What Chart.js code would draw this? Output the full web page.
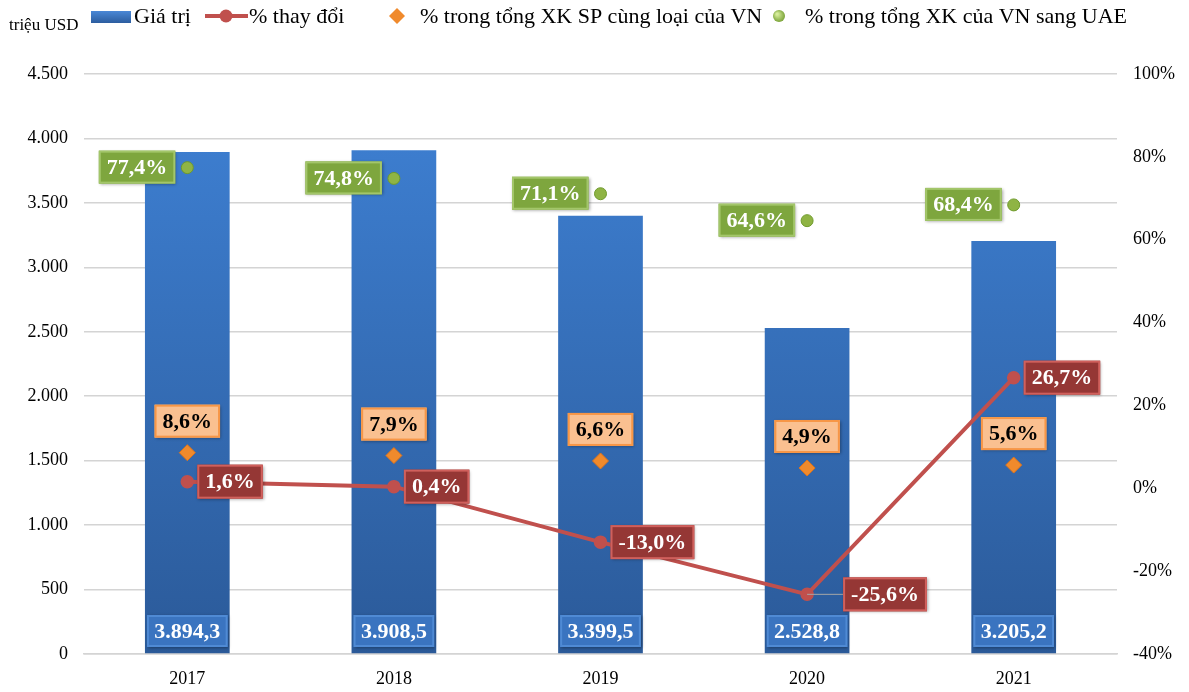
<!DOCTYPE html>
<html>
<head>
<meta charset="utf-8">
<script src="https://cdn.jsdelivr.net/npm/chart.js@4.4.1/dist/chart.umd.min.js"></script>
<style>
  html, body { margin: 0; padding: 0; background: #fff; }
  #khung { width: 1189px; height: 692px; }
</style>
</head>
<body>
<div id="khung"><canvas id="bieuDo"></canvas></div>
<script>
const nam = ["2017", "2018", "2019", "2020", "2021"];
const giaTri = [3894.3, 3908.5, 3399.5, 2528.8, 3205.2];
const thayDoi = [1.6, 0.4, -13.0, -25.6, 26.7];
const tyTrongSP = [8.6, 7.9, 6.6, 4.9, 5.6];
const tyTrongUAE = [77.4, 74.8, 71.1, 64.6, 68.4];

const FONT = '"Liberation Serif", "Times New Roman", serif';

// so kieu Viet Nam: 3.894,3
function dinhDang(v, le) {
  const phan = Math.abs(v).toFixed(le).split(".");
  const nguyen = phan[0].replace(/\B(?=(\d{3})+(?!\d))/g, ".");
  return (v < 0 ? "-" : "") + nguyen + (le > 0 ? "," + phan[1] : "");
}

function veHop(ctx, text, x, y, w, h, nen, vien, chu) {
  ctx.save();
  ctx.shadowColor = "rgba(0,0,0,0.35)";
  ctx.shadowBlur = 3;
  ctx.shadowOffsetX = 1;
  ctx.shadowOffsetY = 1;
  ctx.fillStyle = nen;
  ctx.fillRect(x, y, w, h);
  ctx.restore();
  ctx.save();
  ctx.strokeStyle = vien;
  ctx.lineWidth = 2;
  ctx.strokeRect(x + 1, y + 1, w - 2, h - 2);
  ctx.fillStyle = chu;
  ctx.font = "bold 22px " + FONT;
  ctx.textAlign = "center";
  ctx.textBaseline = "middle";
  ctx.fillText(text, x + w / 2, y + h / 2 + 1);
  ctx.restore();
}

const nhanDuLieu = {
  id: "nhanDuLieu",
  afterDatasetsDraw(chart) {
    const ctx = chart.ctx;
    const area = chart.chartArea;
    ctx.save();
    ctx.font = "bold 22px " + FONT;
    chart.data.datasets.forEach((ds, di) => {
      const meta = chart.getDatasetMeta(di);
      meta.data.forEach((el, i) => {
        const v = ds.data[i];
        const h = 34;
        if (ds.kieuNhan === "cot") {
          const w = el.width - 4;
          veHop(ctx, dinhDang(v, 1), el.x - w / 2, area.bottom - 7 - 32, w, 32, "#3a74c0", "#4f8ad4", "#fff");
          return;
        }
        const text = dinhDang(v, 1) + "%";
        const w = ctx.measureText(text).width + 16;
        if (ds.kieuNhan === "phai") {
          let dx = 10;
          if (i === 3) {
            dx = 36;
            ctx.save();
            ctx.strokeStyle = "#a6a6a6";
            ctx.lineWidth = 1;
            ctx.beginPath();
            ctx.moveTo(el.x, el.y);
            ctx.lineTo(el.x + dx, el.y);
            ctx.stroke();
            ctx.restore();
          }
          veHop(ctx, text, el.x + dx, el.y - h / 2, w, h, "#953735", "#d0605c", "#fff");
        } else if (ds.kieuNhan === "tren") {
          veHop(ctx, text, el.x - w / 2, el.y - 14 - h, w, h - 1, "#fac090", "#f79646", "#000");
        } else if (ds.kieuNhan === "trai") {
          veHop(ctx, text, el.x - 12 - w, el.y - h / 2, w, h - 1, "#7ea63e", "#a3c66a", "#fff");
        }
      });
    });
    ctx.restore();
  }
};

const chuGiai = {
  id: "chuGiai",
  afterDraw(chart) {
    const ctx = chart.ctx;
    ctx.save();
    ctx.fillStyle = "#000";
    ctx.textBaseline = "alphabetic";
    ctx.font = "17px " + FONT;
    ctx.fillText("triệu USD", 9, 30);

    ctx.font = "22px " + FONT;
    const y = 16;
    // cot
    const g = ctx.createLinearGradient(0, 11, 0, 23);
    g.addColorStop(0, "#4a88d6");
    g.addColorStop(1, "#2c5d9f");
    ctx.fillStyle = g;
    ctx.fillRect(91, 11, 40, 12);
    ctx.fillStyle = "#000";
    ctx.textBaseline = "middle";
    ctx.fillText("Giá trị", 134, y + 1);
    // duong
    ctx.strokeStyle = "#c0504d";
    ctx.lineWidth = 4;
    ctx.beginPath();
    ctx.moveTo(205, y);
    ctx.lineTo(248, y);
    ctx.stroke();
    ctx.fillStyle = "#c0504d";
    ctx.beginPath();
    ctx.arc(226, y, 6.5, 0, Math.PI * 2);
    ctx.fill();
    ctx.fillStyle = "#000";
    ctx.fillText("% thay đổi", 249, y + 1);
    // kim cuong
    ctx.fillStyle = "#f08a2c";
    ctx.beginPath();
    ctx.moveTo(397, y - 8);
    ctx.lineTo(405, y);
    ctx.lineTo(397, y + 8);
    ctx.lineTo(389, y);
    ctx.closePath();
    ctx.fill();
    ctx.fillStyle = "#000";
    ctx.fillText("% trong tổng XK SP cùng loại của VN", 420, y + 1);
    // cham xanh
    const rg = ctx.createRadialGradient(777, y - 2, 1, 779, y, 7);
    rg.addColorStop(0, "#d6ec9a");
    rg.addColorStop(1, "#6f9a2c");
    ctx.fillStyle = rg;
    ctx.beginPath();
    ctx.arc(779, y, 6, 0, Math.PI * 2);
    ctx.fill();
    ctx.fillStyle = "#000";
    ctx.fillText("% trong tổng XK của VN sang UAE", 805, y + 1);
    ctx.restore();
  }
};

function mauCot(context) {
  const area = context.chart.chartArea;
  if (!area) return "#3a78c8";
  const g = context.chart.ctx.createLinearGradient(0, area.top, 0, area.bottom);
  g.addColorStop(0, "#3f82d6");
  g.addColorStop(1, "#2b5a99");
  return g;
}

new Chart(document.getElementById("bieuDo"), {
  data: {
    labels: nam,
    datasets: [
      {
        type: "bar",
        label: "Giá trị",
        data: giaTri,
        yAxisID: "y",
        backgroundColor: mauCot,
        barPercentage: 0.41,
        categoryPercentage: 1,
        order: 4,
        kieuNhan: "cot"
      },
      {
        type: "line",
        label: "% thay đổi",
        data: thayDoi,
        yAxisID: "y1",
        borderColor: "#c0504d",
        borderWidth: 4,
        pointRadius: 6,
        pointBackgroundColor: "#c0504d",
        pointBorderColor: "#c0504d",
        pointBorderWidth: 1.5,
        tension: 0,
        order: 3,
        kieuNhan: "phai"
      },
      {
        type: "line",
        label: "% trong tổng XK SP cùng loại của VN",
        data: tyTrongSP,
        yAxisID: "y1",
        showLine: false,
        pointStyle: "rectRot",
        pointRadius: 8,
        pointBackgroundColor: "#f08a2c",
        pointBorderColor: "#e0741a",
        pointBorderWidth: 1,
        order: 2,
        kieuNhan: "tren"
      },
      {
        type: "line",
        label: "% trong tổng XK của VN sang UAE",
        data: tyTrongUAE,
        yAxisID: "y1",
        showLine: false,
        pointStyle: "circle",
        pointRadius: 6,
        pointBackgroundColor: "#8fb444",
        pointBorderColor: "#6f9a2c",
        pointBorderWidth: 1,
        order: 1,
        kieuNhan: "trai"
      }
    ]
  },
  options: {
    responsive: true,
    maintainAspectRatio: false,
    animation: false,
    layout: { padding: { top: 74, bottom: 0, left: 0, right: 0 } },
    plugins: {
      legend: { display: false },
      tooltip: { enabled: false }
    },
    scales: {
      x: {
        grid: { display: false },
        border: { color: "#d4d4d4", width: 1.5 },
        ticks: { color: "#000", font: { family: FONT, size: 18 }, padding: 6 },
        afterFit(s) { s.height = 38; }
      },
      y: {
        position: "left",
        min: 0,
        max: 4500,
        ticks: {
          stepSize: 500,
          color: "#000",
          font: { family: FONT, size: 18 },
          padding: 16,
          callback: v => dinhDang(v, 0)
        },
        grid: { color: "#d4d4d4", lineWidth: 1.5, drawTicks: false },
        border: { display: false },
        afterFit(s) { s.width = 84; }
      },
      y1: {
        position: "right",
        min: -40,
        max: 100,
        ticks: {
          stepSize: 20,
          color: "#000",
          font: { family: FONT, size: 18 },
          padding: 16,
          callback: v => v + "%"
        },
        grid: { display: false, drawTicks: false },
        border: { display: false },
        afterFit(s) { s.width = 72; }
      }
    }
  },
  plugins: [nhanDuLieu, chuGiai]
});
</script>
</body>
</html>
